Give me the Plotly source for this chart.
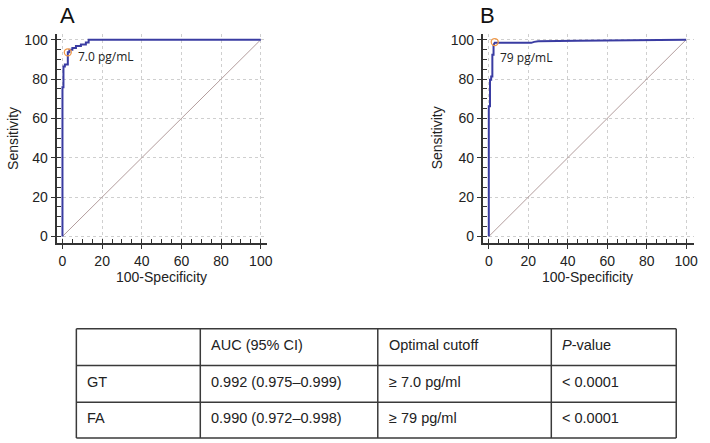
import plotly.graph_objects as go

# ---- data ----
fpr_a = [0, 0, 0.5, 0.5, 1.2, 1.2, 2.7, 2.7, 3.5, 3.5, 5.0, 5.0, 6.8, 6.8, 9.3, 9.3, 11.8, 11.8, 13.2, 13.2, 100]
tpr_a = [0, 75.8, 75.8, 86.4, 86.4, 87.4, 87.4, 93.6, 93.6, 94.9, 94.9, 95.8, 95.8, 96.8, 96.8, 97.5, 97.5, 98.6, 98.6, 100, 100]
cut_a = (2.7, 93.6)
cut_a_label = "7.0 pg/mL"

fpr_b = [0, 0, 0.6, 0.6, 1.2, 1.2, 1.8, 1.8, 2.4, 2.4, 3.0, 21.5, 23, 25, 45, 60, 80, 100]
tpr_b = [0, 66.2, 66.2, 79.6, 79.6, 81.3, 81.3, 92.3, 92.3, 97.3, 98.4, 98.4, 98.9, 99.2, 99.4, 99.6, 99.9, 100]
cut_b = (3.0, 98.8)
cut_b_label = "79 pg/mL"

diag = [0, 100]
ticks = [0, 20, 40, 60, 80, 100]

table_header = ["", "AUC (95% CI)", "Optimal cutoff", "<i>P</i>-value"]
table_rows = [
    ["GT", "0.992 (0.975–0.999)", "≥ 7.0 pg/ml", "< 0.0001"],
    ["FA", "0.990 (0.972–0.998)", "≥ 79 pg/ml", "< 0.0001"],
]

W, H = 710, 443
def px(x): return x / W
def py(y): return 1 - y / H

curve_col = "#3a3ca2"
diag_col = "#b39d9d"
mark_col = "#f09a4a"
axis_col = "#333333"
font = "Liberation Sans, Arial, sans-serif"

fig = go.Figure()
for xs, ys, cut, xa, ya in [(fpr_a, tpr_a, cut_a, "x", "y"), (fpr_b, tpr_b, cut_b, "x2", "y2")]:
    fig.add_trace(go.Scatter(x=diag, y=diag, mode="lines", line=dict(color=diag_col, width=1),
                             xaxis=xa, yaxis=ya, showlegend=False, hoverinfo="skip"))
    fig.add_trace(go.Scatter(x=xs, y=ys, mode="lines", line=dict(color=curve_col, width=2),
                             xaxis=xa, yaxis=ya, showlegend=False))
    fig.add_trace(go.Scatter(x=[cut[0]], y=[cut[1]], mode="markers",
                             marker=dict(symbol="circle-open", size=7, color=mark_col, line=dict(width=1.3)),
                             xaxis=xa, yaxis=ya, showlegend=False))

axis_common = dict(
    showline=True, linecolor=axis_col, linewidth=2, mirror=False,
    zeroline=False, showgrid=True, gridcolor="#cfcfcf", griddash="dot", gridwidth=1,
    tickmode="array", tickvals=ticks, ticks="outside", ticklen=4, tickwidth=1, tickcolor=axis_col,
    minor=dict(dtick=5, tick0=0, ticks="inside", ticklen=4, tickwidth=1, tickcolor=axis_col, showgrid=False),
    tickfont=dict(family=font, size=14, color="#222"),
    fixedrange=True,
)

fig.update_layout(
    width=W, height=H, margin=dict(l=0, r=0, t=0, b=0),
    paper_bgcolor="white", plot_bgcolor="white",
    xaxis=dict(domain=[px(57), px(269)], range=[-3, 103], anchor="y", **axis_common),
    yaxis=dict(domain=[py(243), py(32)], range=[-3.5, 103], anchor="x", **axis_common),
    xaxis2=dict(domain=[px(487), px(700)], range=[-3, 104], anchor="y2", **axis_common),
    yaxis2=dict(domain=[py(243), py(32)], range=[-3.5, 103], anchor="x2", **axis_common),
)

ann = []
# cutoff labels
ann.append(dict(x=7, y=91.5, xref="x", yref="y", text=cut_a_label, showarrow=False,
                xanchor="left", yanchor="middle",
                font=dict(family="Open Sans", size=12, color="#222")))
ann.append(dict(x=4.5, y=91, xref="x2", yref="y2", text=cut_b_label, showarrow=False,
                xanchor="left", yanchor="middle",
                font=dict(family="Open Sans", size=12, color="#222")))
# panel letters
for lbl, cx, cy in [("A", 68, 14), ("B", 492, 14)]:
    ann.append(dict(x=px(cx), y=py(cy), xref="paper", yref="paper", text=lbl, showarrow=False,
                    xanchor="center", yanchor="middle",
                    font=dict(family=font, size=22, color="#111")))
# axis titles
for cx in [13, 441]:
    ann.append(dict(x=px(cx), y=py(137), xref="paper", yref="paper", text="Sensitivity", textangle=-90,
                    showarrow=False, xanchor="center", yanchor="middle",
                    font=dict(family=font, size=14, color="#222")))
for cx in [163, 593]:
    ann.append(dict(x=px(cx), y=py(277), xref="paper", yref="paper", text="100-Specificity",
                    showarrow=False, xanchor="center", yanchor="middle",
                    font=dict(family=font, size=14, color="#222")))

# table
col_edges = [77, 202, 381, 556, 682]
row_edges = [329, 366, 403, 439]
shapes = []
line = dict(color="#3a3a3a", width=1.5)
for xe in col_edges:
    shapes.append(dict(type="line", xref="paper", yref="paper", x0=px(xe), x1=px(xe),
                       y0=py(row_edges[0]), y1=py(row_edges[-1]), line=line))
for ye in row_edges:
    shapes.append(dict(type="line", xref="paper", yref="paper", x0=px(col_edges[0]), x1=px(col_edges[-1]),
                       y0=py(ye), y1=py(ye), line=line))
all_rows = [table_header] + table_rows
for r, row in enumerate(all_rows):
    cy = (row_edges[r] + row_edges[r + 1]) / 2 - 2
    for c, txt in enumerate(row):
        if not txt:
            continue
        ann.append(dict(x=px(col_edges[c] + 9), y=py(cy), xref="paper", yref="paper", text=txt,
                        showarrow=False, xanchor="left", yanchor="middle",
                        font=dict(family=font, size=14.5, color="#222")))

fig.update_layout(annotations=ann, shapes=shapes)
# remove the default 8px page margin so the 710x443 figure fills the window exactly
fig.write_html("out.html",
               config={"displayModeBar": False, "staticPlot": True},
               post_script="document.body.style.margin='0';document.body.style.overflow='hidden';")
